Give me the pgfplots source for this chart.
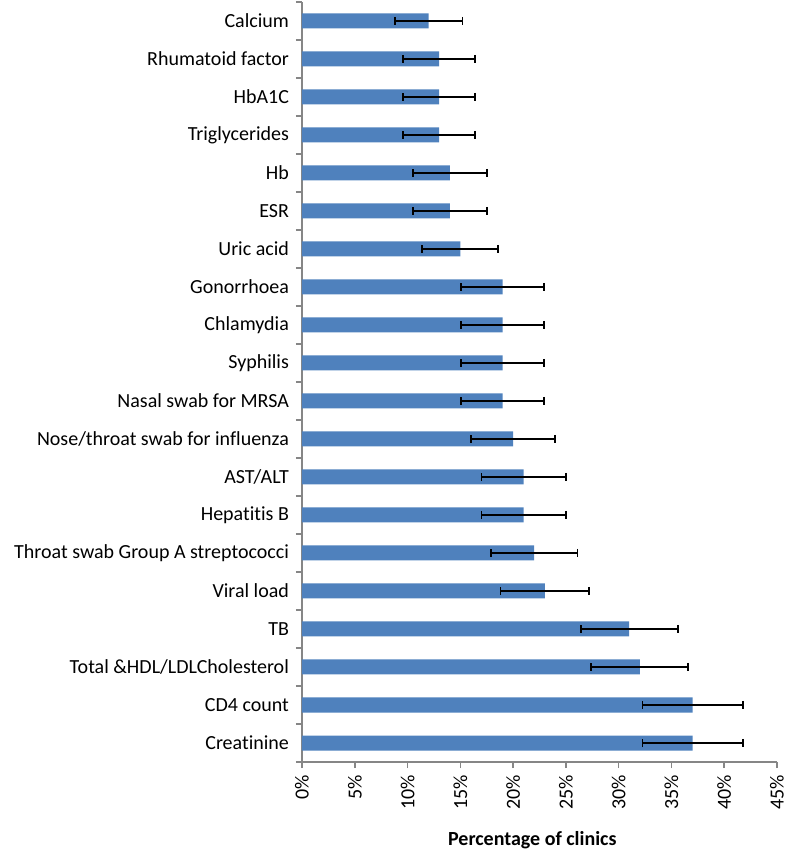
\documentclass[border=0pt]{standalone}
\usepackage{pgfplots}
\pgfplotsset{compat=1.18}
\usepackage{fontspec}
\setmainfont{Carlito}[Ligatures=NoCommon]
\definecolor{barblue}{HTML}{4F81BD}
\definecolor{axgray}{HTML}{868686}
\begin{document}
\begin{tikzpicture}
\path[use as bounding box] (-151pt,-46pt) rectangle (242.5pt,381pt);
\begin{axis}[
  at={(0,0)}, anchor=south west,
  scale only axis,
  width=237.5pt, height=380pt,
  xbar, bar width=7.5pt,
  xmin=0, xmax=45,
  ymin=-0.5, ymax=19.5,
  axis x line*=bottom, axis y line*=left,
  axis line style={axgray, line width=0.75pt, -},
  xtick={0,5,...,45},
  xticklabels={0\%,5\%,10\%,15\%,20\%,25\%,30\%,35\%,40\%,45\%},
  xticklabel style={rotate=90, anchor=east, font=\fontsize{10pt}{12pt}\selectfont},
  ytick={0,...,19},
  yticklabels={Creatinine,CD4 count,Total \&HDL/LDLCholesterol,TB,Viral load,Throat swab Group A streptococci,Hepatitis B,AST/ALT,Nose/throat swab for influenza,Nasal swab for MRSA,Syphilis,Chlamydia,Gonorrhoea,Uric acid,ESR,Hb,Triglycerides,HbA1C,Rhumatoid factor,Calcium},
  yticklabel style={anchor=east, font=\fontsize{10pt}{12pt}\selectfont},
  minor ytick={-0.5,0.5,...,19.5},
  major y tick style={draw=none},
  minor y tick style={axgray, line width=0.75pt},
  x tick style={axgray, line width=0.75pt},
  tick align=outside,
  major tick length=3pt, minor tick length=3pt,
  xlabel={Percentage of clinics},
  xlabel style={font=\bfseries\fontsize{10pt}{12pt}\selectfont, at={(axis description cs:0.485,0)}, anchor=center, yshift=-39pt},
  /pgf/number format/assume math mode=true,
  clip=false,
]
\addplot[fill=barblue, draw=none,
  error bars/.cd, x dir=both, x explicit,
  error bar style={black, line width=0.9pt},
  error mark=|,
  error mark options={black, line width=0.9pt, mark size=2pt}]
coordinates {
(37,0) +- (4.75,0)
(37,1) +- (4.75,0)
(32,2) +- (4.6,0)
(31,3) +- (4.6,0)
(23,4) +- (4.2,0)
(22,5) +- (4.1,0)
(21,6) +- (4.0,0)
(21,7) +- (4.0,0)
(20,8) +- (4.0,0)
(19,9) +- (3.9,0)
(19,10) +- (3.9,0)
(19,11) +- (3.9,0)
(19,12) +- (3.9,0)
(15,13) +- (3.6,0)
(14,14) +- (3.5,0)
(14,15) +- (3.5,0)
(13,16) +- (3.4,0)
(13,17) +- (3.4,0)
(13,18) +- (3.4,0)
(12,19) +- (3.2,0)
};
\end{axis}
\end{tikzpicture}
\end{document}
